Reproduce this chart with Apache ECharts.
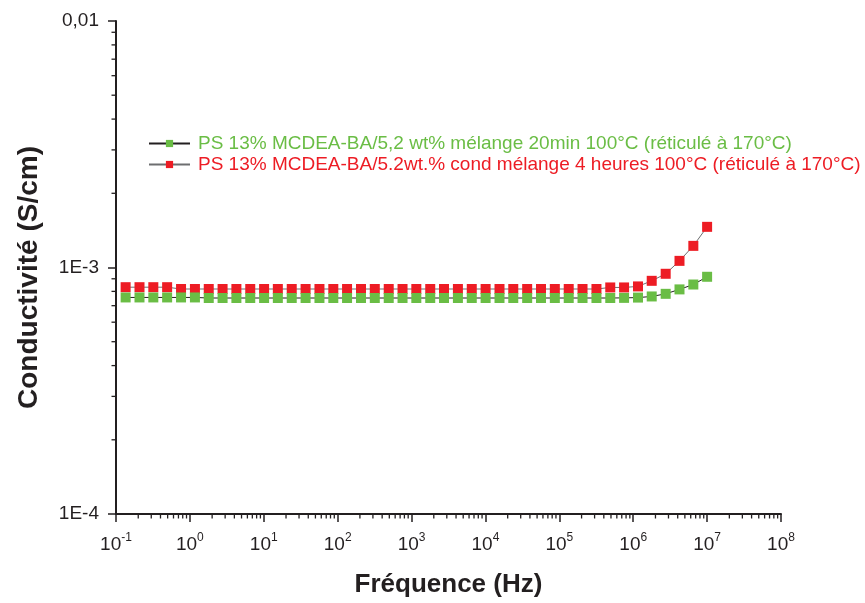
<!DOCTYPE html>
<html>
<head>
<meta charset="utf-8">
<script src="https://cdn.jsdelivr.net/npm/echarts@6/dist/echarts.min.js"></script>
<style>
html,body{margin:0;padding:0;background:#fff;overflow:hidden;}
#chart{width:865px;height:603px;}
</style>
</head>
<body>
<div id="chart"></div>
<script>
// Frequencies (Hz)
var frequencies = [0.135, 0.208, 0.320, 0.492, 0.759, 1.17, 1.80, 2.77, 4.26, 6.56,
  10.1, 15.5, 23.9, 36.8, 56.7, 87.3, 134, 207, 318, 491,
  755, 1160, 1790, 2750, 4240, 6530, 10050, 15500, 23800, 36700,
  56500, 86900, 134000, 206000, 318000, 489000, 752000, 1160000, 1780000, 2750000,
  4230000, 6510000, 10000000];

// Conductivity (S/cm) – 20 min mixing
var green20min = [7.56e-4, 7.56e-4, 7.56e-4, 7.56e-4, 7.56e-4, 7.56e-4, 7.52e-4, 7.52e-4, 7.52e-4, 7.52e-4,
  7.52e-4, 7.52e-4, 7.52e-4, 7.52e-4, 7.52e-4, 7.52e-4, 7.52e-4, 7.52e-4, 7.52e-4, 7.52e-4,
  7.52e-4, 7.52e-4, 7.52e-4, 7.52e-4, 7.52e-4, 7.52e-4, 7.52e-4, 7.52e-4, 7.52e-4, 7.52e-4,
  7.52e-4, 7.52e-4, 7.52e-4, 7.52e-4, 7.52e-4, 7.52e-4, 7.53e-4, 7.55e-4, 7.63e-4, 7.82e-4,
  8.15e-4, 8.53e-4, 9.17e-4];

// Conductivity (S/cm) – 4 hours mixing
var red4h = [8.32e-4, 8.32e-4, 8.32e-4, 8.32e-4, 8.18e-4, 8.18e-4, 8.18e-4, 8.18e-4, 8.18e-4, 8.18e-4,
  8.18e-4, 8.18e-4, 8.18e-4, 8.18e-4, 8.18e-4, 8.18e-4, 8.18e-4, 8.18e-4, 8.18e-4, 8.18e-4,
  8.18e-4, 8.18e-4, 8.18e-4, 8.18e-4, 8.18e-4, 8.18e-4, 8.18e-4, 8.18e-4, 8.18e-4, 8.18e-4,
  8.18e-4, 8.18e-4, 8.18e-4, 8.18e-4, 8.18e-4, 8.30e-4, 8.30e-4, 8.38e-4, 8.83e-4, 9.43e-4,
  1.064e-3, 1.224e-3, 1.462e-3];

var seriesNames = [
  'PS 13% MCDEA-BA/5,2 wt% mélange 20min 100°C (réticulé à 170°C)',
  'PS 13% MCDEA-BA/5.2wt.% cond mélange 4 heures 100°C (réticulé à 170°C)'
];

// Axis ranges and tick labels
var xMin = 0.1, xMax = 1e8;
var yMin = 1e-4, yMax = 1e-2;
var yTickLabels = {'-4': '1E-4', '-3': '1E-3', '-2': '0,01'};
var xDecades = [0.1, 1, 10, 100, 1000, 10000, 100000, 1000000, 10000000];
var yDecades = [1e-4, 1e-3];
var minorMultipliers = [2, 3, 4, 5, 6, 7, 8, 9];

var FONT = '"Liberation Sans", Arial, sans-serif';
var INK = '#231f20';
var GREEN = '#6abd45';
var RED = '#ed1c24';

var xMinor = [];
xDecades.forEach(function (d) { minorMultipliers.forEach(function (m) { xMinor.push([d * m, yMin]); }); });
var yMinor = [];
yDecades.forEach(function (d) { minorMultipliers.forEach(function (m) { yMinor.push([xMin, d * m]); }); });

function pairs(ys) { return frequencies.map(function (f, i) { return [f, ys[i]]; }); }

var chart = echarts.init(document.getElementById('chart'), null, {renderer: 'canvas', width: 865, height: 603});
chart.setOption({
  animation: false,
  backgroundColor: '#fff',
  grid: {left: 116, right: 84, top: 21, bottom: 88, containLabel: false},
  legend: {
    orient: 'vertical',
    left: 148,
    top: 134,
    padding: 0,
    itemWidth: 41,
    itemHeight: 9,
    itemGap: 2,
    textStyle: {fontFamily: FONT, fontSize: 19, padding: [0, 0, 0, 3]},
    data: [
      {name: seriesNames[0], textStyle: {color: GREEN}},
      {name: seriesNames[1], textStyle: {color: RED}}
    ]
  },
  xAxis: {
    type: 'log',
    logBase: 10,
    min: xMin,
    max: xMax,
    splitNumber: 9,
    name: 'Fréquence (Hz)',
    nameLocation: 'middle',
    nameGap: 58,
    nameTextStyle: {fontFamily: FONT, fontSize: 26, fontWeight: 'bold', color: INK},
    axisLine: {show: true, lineStyle: {color: INK, width: 2}},
    axisTick: {show: true, inside: false, length: 8, lineStyle: {color: INK, width: 1.5}},
    splitLine: {show: false},
    axisLabel: {
      margin: 18,
      color: INK,
      fontFamily: FONT,
      formatter: function (v) {
        var e = Math.round(Math.log10(v));
        return '{b|10}{s|' + e + '}';
      },
      rich: {
        b: {fontFamily: FONT, fontSize: 19, color: INK, lineHeight: 22, verticalAlign: 'bottom'},
        s: {fontFamily: FONT, fontSize: 12, color: INK, verticalAlign: 'top', lineHeight: 12}
      }
    }
  },
  yAxis: {
    type: 'log',
    logBase: 10,
    min: yMin,
    max: yMax,
    splitNumber: 2,
    name: 'Conductivité (S/cm)',
    nameLocation: 'middle',
    nameGap: 73,
    nameRotate: 90,
    nameTextStyle: {fontFamily: FONT, fontSize: 28, fontWeight: 'bold', color: INK, padding: [0, 20, 0, 0]},
    axisLine: {show: true, lineStyle: {color: INK, width: 2}},
    axisTick: {show: true, inside: false, length: 8, lineStyle: {color: INK, width: 1.5}},
    splitLine: {show: false},
    axisLabel: {
      margin: 17,
      color: INK,
      fontFamily: FONT,
      fontSize: 19,
      formatter: function (v) {
        var e = Math.round(Math.log10(v));
        return yTickLabels[String(e)] || '';
      }
    }
  },
  series: [
    {
      name: seriesNames[0],
      type: 'line',
      data: pairs(green20min),
      symbol: 'rect',
      symbolSize: 10,
      showSymbol: true,
      itemStyle: {color: GREEN},
      lineStyle: {color: INK, width: 1},
      z: 3
    },
    {
      name: seriesNames[1],
      type: 'line',
      data: pairs(red4h),
      symbol: 'rect',
      symbolSize: 10,
      showSymbol: true,
      itemStyle: {color: RED},
      lineStyle: {color: '#6d6e70', width: 1},
      z: 2
    },
    {
      name: 'xMinorTicks',
      type: 'custom',
      clip: false,
      silent: true,
      data: xMinor,
      renderItem: function (params, api) {
        var p = api.coord([api.value(0), api.value(1)]);
        return {type: 'line', shape: {x1: p[0], y1: p[1], x2: p[0], y2: p[1] + 4.5},
          style: {stroke: INK, lineWidth: 1.3}};
      }
    },
    {
      name: 'yMinorTicks',
      type: 'custom',
      clip: false,
      silent: true,
      data: yMinor,
      renderItem: function (params, api) {
        var p = api.coord([api.value(0), api.value(1)]);
        return {type: 'line', shape: {x1: p[0], y1: p[1], x2: p[0] - 4.5, y2: p[1]},
          style: {stroke: INK, lineWidth: 1.3}};
      }
    }
  ]
});
</script>
</body>
</html>
